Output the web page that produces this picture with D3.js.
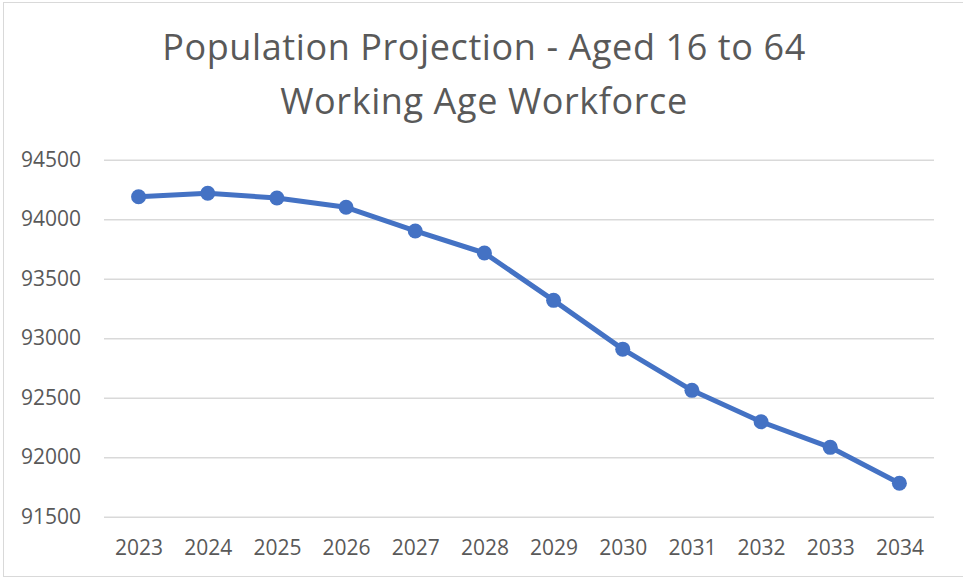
<!DOCTYPE html>
<meta charset="utf-8" />
<script src="https://d3js.org/d3.v7.min.js"></script>
<body style="margin:0;background:#fff">
<svg id="chart" width="963" height="578" style="display:block"></svg>
<script>
/* DATA ------------------------------------------------------------------- */
const years=["2023","2024","2025","2026","2027","2028","2029","2030","2031","2032","2033","2034"];
const population=[94189,94218,94178,94100,93901,93716,93318,92908,92562,92298,92083,91781];
const yTicks=[91500,92000,92500,93000,93500,94000,94500];
const titleLines=["Population Projection - Aged 16 to 64","Working Age Workforce"];

/* CONFIG ----------------------------------------------------------------- */
const W=963,H=578,font="'Open Sans',sans-serif",grey="#595959",blue="#4472C4";
const plotL=104,plotR=934,plotT=159.7,plotB=516.7;

const svg=d3.select("#chart").style("font-family",font);

// outer chart border
svg.append("rect").attr("x",3.5).attr("y",2.5).attr("width",W+10).attr("height",574)
   .attr("fill","#fff").attr("stroke","#d9d9d9").attr("stroke-width",1);

/* title */
svg.append("text").attr("text-anchor","middle").attr("fill",grey).attr("font-size","36px")
   .attr("letter-spacing","0.6px")
  .selectAll("tspan").data(titleLines).join("tspan")
    .attr("x",484).attr("y",(d,i)=>60+i*54).text(d=>d);

/* scales */
const x=d3.scalePoint().domain(years).range([plotL,plotR]).padding(0.5);
const y=d3.scaleLinear().domain([91500,94500]).range([plotB,plotT]);

/* gridlines + y labels */
svg.append("g").attr("transform",`translate(${plotL},0)`)
  .call(d3.axisLeft(y).tickValues(yTicks).tickSize(-(plotR-plotL)).tickPadding(23).tickFormat(d3.format("d")))
  .call(g=>g.select(".domain").remove())
  .call(g=>g.selectAll(".tick line").attr("stroke","#d9d9d9").attr("stroke-width",1.5))
  .call(g=>g.selectAll(".tick text").attr("fill",grey).attr("font-size","21px").attr("font-family",font));

/* x labels */
svg.append("g").attr("transform",`translate(0,${plotB})`)
  .call(d3.axisBottom(x).tickSize(0).tickPadding(23))
  .call(g=>g.select(".domain").remove())
  .call(g=>g.selectAll(".tick text").attr("fill",grey).attr("font-size","21px").attr("font-family",font));

/* line + markers */
const pts=years.map((d,i)=>({year:d,value:population[i]}));
svg.append("path").datum(pts)
  .attr("fill","none").attr("stroke",blue).attr("stroke-width",5).attr("stroke-linejoin","round")
  .attr("d",d3.line().x(d=>x(d.year)).y(d=>y(d.value)));
svg.append("g").selectAll("circle").data(pts).join("circle")
  .attr("cx",d=>x(d.year)).attr("cy",d=>y(d.value)).attr("r",7.5).attr("fill",blue);
</script>
</body>
